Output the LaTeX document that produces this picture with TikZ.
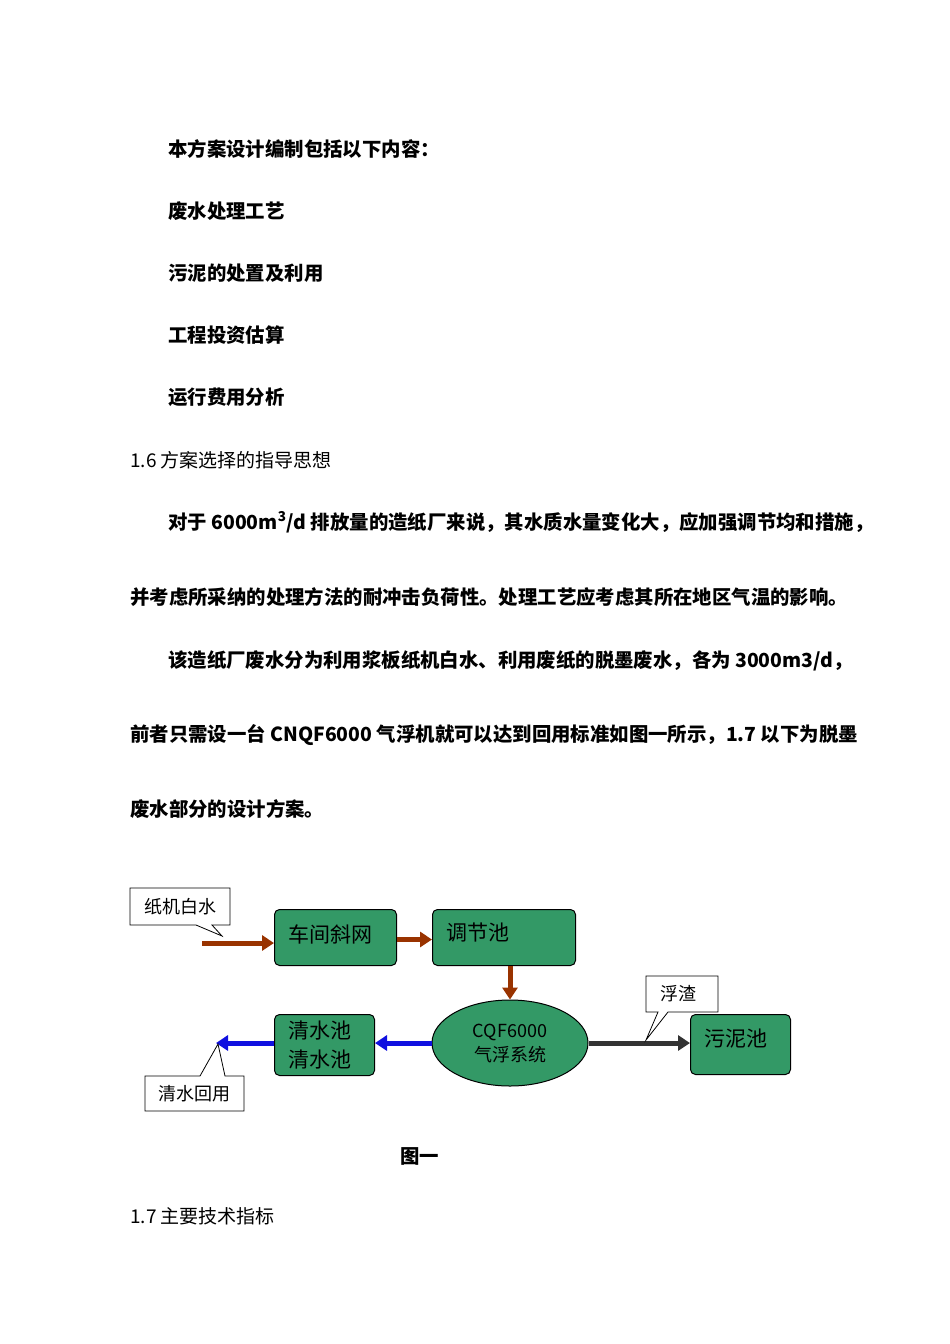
\documentclass[tikz,border=0pt]{standalone}
\usepackage{fontspec}
\setmainfont{Noto Sans CJK SC}
\usetikzlibrary{arrows.meta,shapes.geometric,calc}
\definecolor{boxg}{HTML}{339966}
\definecolor{brn}{HTML}{993300}
\definecolor{blu}{HTML}{1010E0}
\definecolor{dgr}{HTML}{333333}
\tikzset{
 x=1pt,y=-1pt,
 bt/.style={anchor=base west,inner sep=0pt,font=\fontsize{19.4}{19}\selectfont\bfseries},
 rt/.style={anchor=base west,inner sep=0pt,font=\fontsize{19}{19}\selectfont},
 gbox/.style={draw=black,line width=1pt,fill=boxg,rounded corners=5pt,anchor=north west,inner sep=0pt},
 btext/.style={anchor=west,inner sep=0pt,font=\fontsize{21}{24}\selectfont},
 callout/.style={draw=black,fill=white,line width=0.8pt},
 barrow/.style={line width=5pt,draw=#1,-{Triangle[length=12pt,width=15pt]}},
}
\begin{document}
\begin{tikzpicture}
\useasboundingbox[fill=white] (0,0) rectangle (950,1344);
\node[bt] (t1) at (168,156) {本方案设计编制包括以下内容：};
\node[bt] (t2) at (168,218) {废水处理工艺};
\node[bt] (t3) at (168,280) {污泥的处置及利用};
\node[bt] (t4) at (168,342) {工程投资估算};
\node[bt] (t5) at (168,404) {运行费用分析};
\node[rt] (t6) at (130,467) {1.6 方案选择的指导思想};
\node[bt] (t7) at (168,529) {对于 6000m\textsuperscript{3}/d 排放量的造纸厂来说，其水质水量变化大，应加强调节均和措施，};
\node[bt] (t8) at (130,604) {并考虑所采纳的处理方法的耐冲击负荷性。处理工艺应考虑其所在地区气温的影响。};
\node[bt] (t9) at (168,667) {该造纸厂废水分为利用浆板纸机白水、利用废纸的脱墨废水，各为 3000m3/d，};
\node[bt] (t10) at (130,741) {前者只需设一台 CNQF6000 气浮机就可以达到回用标准如图一所示，1.7 以下为脱墨};
\node[bt] (t11) at (130,816) {废水部分的设计方案。};
\node[bt] (t12) at (400,1163) {图一};
\node[rt] (t13) at (130,1223) {1.7 主要技术指标};
% boxes
\node[gbox,minimum width=122pt,minimum height=56pt] (b1) at (274,909) {};
\node[btext] at ($(b1.west)+(14,-3)$) {车间斜网};
\node[gbox,minimum width=143pt,minimum height=56pt] (b2) at (432,909) {};
\node[btext] at ($(b2.west)+(14,-5)$) {调节池};
\node[draw=black,line width=1pt,fill=boxg,ellipse,minimum width=156pt,minimum height=86pt,inner sep=0pt] (e) at (510,1043) {};
\node[align=center,font=\fontsize{18}{24}\selectfont] at (e.center) {CQF6000\\气浮系统};
\node[gbox,minimum width=100pt,minimum height=60pt] (b3) at (690,1014) {};
\node[btext] at ($(b3.west)+(14,-6)$) {污泥池};
\node[gbox,minimum width=100pt,minimum height=61pt] (b4) at (274,1014) {};
\node[align=left,anchor=north west,inner sep=0pt,font=\fontsize{21}{29}\selectfont] (b4t) at (288,1021) {清水池\\清水池};
% arrows
\coordinate (s1) at (202,943);
\draw[barrow=brn] (s1) -- (b1.west |- s1);
\draw[barrow=brn] ($(b1.east)+(0,2)$) -- ($(b2.west)+(0,2)$);
\draw[barrow=brn] (b2.south -| e.north) -- (e.north);
\draw[barrow=dgr] (e.east) -- (b3.west |- e.east);
\draw[barrow=blu] (e.west) -- (b4.east |- e.west);
\coordinate (s2) at (216,1043);
\draw[barrow=blu] (b4.west |- s2) -- (s2);
% callouts
\draw[callout] (130,888) -- (230,888) -- (230,925) -- (212,925) -- (222,936) -- (196,925) -- (130,925) -- cycle;
\node[inner sep=0pt,font=\fontsize{18}{18}\selectfont] (c1) at (180,907) {纸机白水};
\draw[callout] (646,976) -- (718,976) -- (718,1012) -- (668,1012) -- (646,1040) -- (658,1012) -- (646,1012) -- cycle;
\node[inner sep=0pt,font=\fontsize{18}{18}\selectfont] (c2) at (678,994) {浮渣};
\draw[callout] (145,1076) -- (200,1076) -- (218,1044) -- (225,1076) -- (244,1076) -- (244,1111) -- (145,1111) -- cycle;
\node[inner sep=0pt,font=\fontsize{18}{18}\selectfont] (c3) at (194,1094) {清水回用};
\end{tikzpicture}
\end{document}
